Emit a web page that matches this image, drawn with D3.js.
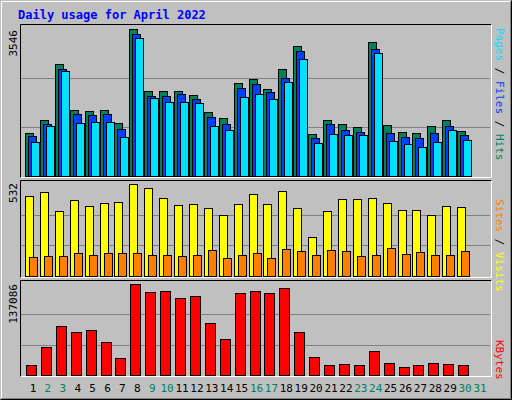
<!DOCTYPE html>
<html><head><meta charset="utf-8">
<script src="https://cdn.jsdelivr.net/npm/d3@7"></script>
<style>body{margin:0;background:#fff}svg{display:block}</style>
</head><body>
<script>
const days = d3.range(1, 32);
const weekend = [2,3,9,10,16,17,23,24,30,31];
const z1 = y => Math.round((469 - y) / 441 * 3546);
const hits  = [340,300,132,270,273,270,310,28,213,213,213,225,276,294,189,177,207,147,78,342,300,312,321,66,315,336,339,318,300,333].map(z1);
const files = [349,312,147,282,285,282,327,43,228,228,222,237,291,312,204,192,216,174,93,354,312,330,336,87,339,351,354,339,318,345].map(z1);
const pages = [366,318,153,309,306,306,351,55,234,246,246,249,318,330,231,222,237,186,117,369,342,345,345,99,363,372,381,366,330,360].map(z1);
const z2 = y => Math.round((304 - y) / 276 * 532);
const visits = [63,51,108,75,93,84,81,27,39,69,90,87,99,120,87,57,87,48,99,186,108,72,72,69,84,105,105,120,93,96].map(z2);
const sites  = [246,243,243,234,240,234,234,234,240,240,243,240,225,249,240,234,249,222,228,240,225,228,243,240,219,237,231,240,240,228].map(z2);
const z3 = y => Math.round((601 - y) / 274 * 137086);
const kbytes = [570,516,453,471,465,501,549,327,351,348,369,363,444,492,354,348,354,339,471,546,570,567,570,528,564,576,570,564,567,570].map(z3);
const maxHits = 3546, maxVisits = 532, maxKB = 137086;

const W = 512, H = 400;
const svg = d3.select("body").append("svg").attr("width", W).attr("height", H);
svg.append("rect").attr("width", W).attr("height", H).attr("fill", "#c0c0c0");
// outer bevel
svg.append("path").attr("d", "M1.5,398.5V1.5H510.5").attr("stroke", "#fff").attr("fill", "none");
svg.append("path").attr("d", "M1.5,398.5H510.5V1.5").attr("stroke", "#808080").attr("fill", "none");
svg.append("path").attr("d", "M0.5,399.5H511.5V0.5").attr("stroke", "#000").attr("fill", "none");

svg.append("text").attr("x", 18).attr("y", 19).text("Daily usage for April 2022")
  .attr("font-family", "DejaVu Sans Mono").attr("font-weight", "bold").attr("font-size", 12).attr("fill", "#0000ff");

const x = d3.scaleLinear().domain([1, 31]).range([33, 480]);
const mono = "DejaVu Sans Mono";

function panel(y0, y1) {
  svg.append("path").attr("d", `M20.5,${y1}V${y0+0.5}H491.5`).attr("stroke", "#000").attr("fill", "none");
  svg.append("path").attr("d", `M20.5,${y1-0.5}H491.5V${y0+0.5}`).attr("stroke", "#fff").attr("fill", "none");
}
function grid(y, yb, top) {
  [1/3, 2/3].forEach(f => {
    const yy = Math.round(y(top * f)) + 0.5;
    svg.append("line").attr("x1", 21).attr("x2", 490).attr("y1", yy).attr("y2", yy).attr("stroke", "#808080");
  });
}
function bars(data, y, dx, w, color) {
  svg.append("g").selectAll("rect").data(data).join("rect")
    .attr("x", (d, i) => Math.round(x(i + 1)) + dx + 0.5)
    .attr("y", d => Math.round(y(d)) + 0.5)
    .attr("width", w).attr("height", d => Math.round(y(0)) - Math.round(y(d)))
    .attr("fill", color).attr("stroke", "#000");
}
function ylab(t, ymid, yTop) {
  svg.append("text").attr("transform", `translate(17,${yTop}) rotate(-90)`).attr("text-anchor", "end")
    .attr("font-family", mono).attr("font-size", 11).text(t);
}
function rlab(parts, yStart) {
  const t = svg.append("text").attr("transform", `translate(496,${yStart}) rotate(90)`)
    .attr("font-family", mono).attr("font-size", 11);
  parts.forEach(p => t.append("tspan").attr("fill", p[1]).text(p[0]));
}

// panel 1
panel(24, 178);
const y1 = d3.scaleLinear().domain([0, maxHits]).range([176, 29]);
grid(y1, 176, maxHits);
bars(hits, y1, -8, 8, "#00805c");
bars(files, y1, -5, 8, "#0040ff");
bars(pages, y1, -2, 8, "#00e0ff");
ylab("3546", 0, 30);
rlab([["Pages", "#00e0ff"], [" / ", "#000"], ["Files", "#0040ff"], [" / ", "#000"], ["Hits", "#00805c"]], 28);

// panel 2
panel(180, 278);
const y2 = d3.scaleLinear().domain([0, maxVisits]).range([276, 184]);
grid(y2, 276, maxVisits);
bars(visits, y2, -8, 8, "#ffff00");
bars(sites, y2, -4, 8, "#ff8000");
ylab("532", 0, 183);
rlab([["Sites", "#ff8000"], [" / ", "#000"], ["Visits", "#ffff00"]], 199);

// panel 3
panel(280, 377);
const y3 = d3.scaleLinear().domain([0, maxKB]).range([375, 284]);
grid(y3, 375, maxKB);
bars(kbytes, y3, -7, 10, "#ff0000");
ylab("137086", 0, 284);
rlab([["KBytes", "#ff0000"]], 340);

// day labels
svg.append("g").selectAll("text").data(days).join("text")
  .attr("x", d => x(d)).attr("y", 392).attr("text-anchor", "middle")
  .attr("font-family", mono).attr("font-size", 11)
  .attr("fill", d => weekend.includes(d) ? "#00805c" : "#000").text(d => d);
</script>
</body></html>
